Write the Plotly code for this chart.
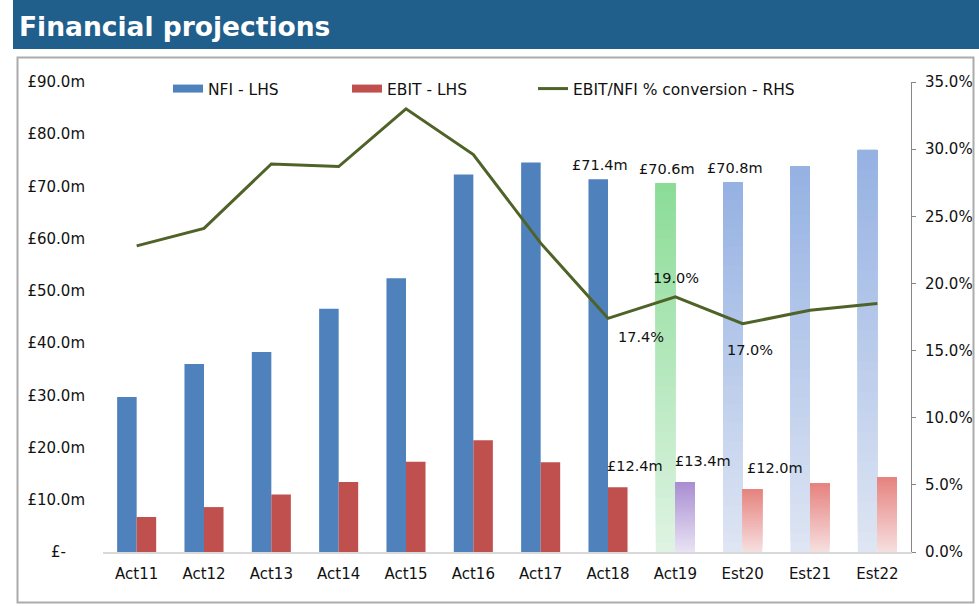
import plotly.graph_objects as go

# Data
categories = ['Act11', 'Act12', 'Act13', 'Act14', 'Act15', 'Act16',
              'Act17', 'Act18', 'Act19', 'Est20', 'Est21', 'Est22']
nfi = [29.7, 36.0, 38.3, 46.6, 52.4, 72.3, 74.6, 71.4, 70.6, 70.8, 73.8, 77.0]
ebit = [6.7, 8.6, 11.0, 13.4, 17.3, 21.4, 17.2, 12.4, 13.4, 12.0, 13.1, 14.3]
conversion = [22.8, 24.1, 28.9, 28.7, 33.0, 29.6, 23.0, 17.4, 19.0, 17.0, 18.0, 18.5]

left_tickvals = [0, 10, 20, 30, 40, 50, 60, 70, 80, 90]
left_ticktext = ['£-\u00a0\u00a0\u00a0\u00a0', '£10.0m', '£20.0m', '£30.0m', '£40.0m', '£50.0m',
                 '£60.0m', '£70.0m', '£80.0m', '£90.0m']
right_tickvals = [0, 5, 10, 15, 20, 25, 30, 35]
right_ticktext = ['0.0%', '5.0%', '10.0%', '15.0%', '20.0%', '25.0%', '30.0%', '35.0%']

# which bars get labels
nfi_labelled = ['Act18', 'Act19', 'Est20']
ebit_labelled = ['Act18', 'Act19', 'Est20']
pct_labelled = ['Act18', 'Act19', 'Est20']

FONT = 'DejaVu Sans'
NFI_COL = '#4F81BD'
EBIT_COL = '#C0504D'
LINE_COL = '#4F6228'

# plot area in pixels
L, R, T, B = 103, 911, 82, 552
W, H = 979, 606


def px_x(p):
    return (p - L) / (R - L)


def px_y(p):
    return (B - p) / (B - T)


def mix(c0, c1, t):
    return 'rgb({},{},{})'.format(*[round(a + (b - a) * t) for a, b in zip(c0, c1)])


# gradient colours (bottom, top)
grad_nfi = {'Act19': ((222, 243, 226), (140, 220, 152))}
grad_ebit = {'Act19': ((232, 226, 244), (170, 142, 210))}
for c in ['Est20', 'Est21', 'Est22']:
    grad_nfi[c] = ((222, 229, 243), (150, 178, 227))
    grad_ebit[c] = ((246, 222, 222), (230, 132, 128))

BW = 0.29
n_solid = 8
fig = go.Figure()

fig.add_trace(go.Bar(x=categories[:n_solid], y=nfi[:n_solid], width=BW, offset=-BW,
                     marker=dict(color=NFI_COL, line=dict(width=0)), showlegend=False))
fig.add_trace(go.Bar(x=categories[:n_solid], y=ebit[:n_solid], width=BW, offset=0,
                     marker=dict(color=EBIT_COL, line=dict(width=0)), showlegend=False))

# gradient bars: layered bars, each a bit higher base and darker shade
N = 40
gcats = categories[n_solid:]
gnfi = nfi[n_solid:]
gebit = ebit[n_solid:]
for k in range(N):
    t = k / (N - 1)
    fig.add_trace(go.Bar(x=gcats, y=[v - v * k / N for v in gnfi], base=[v * k / N for v in gnfi],
                         width=BW, offset=-BW,
                         marker=dict(color=[mix(*grad_nfi[c], t) for c in gcats], line=dict(width=0)),
                         showlegend=False, hoverinfo='skip'))
    fig.add_trace(go.Bar(x=gcats, y=[v - v * k / N for v in gebit], base=[v * k / N for v in gebit],
                         width=BW, offset=0,
                         marker=dict(color=[mix(*grad_ebit[c], t) for c in gcats], line=dict(width=0)),
                         showlegend=False, hoverinfo='skip'))

fig.add_trace(go.Scatter(x=categories, y=conversion, yaxis='y2', mode='lines',
                         line=dict(color=LINE_COL, width=3), showlegend=False))

# legend entries, one legend each so they can be placed like the original
fig.add_trace(go.Scatter(x=[None], y=[None], mode='lines', name='NFI - LHS', legend='legend',
                         line=dict(color=NFI_COL, width=8)))
fig.add_trace(go.Scatter(x=[None], y=[None], mode='lines', name='EBIT - LHS', legend='legend2',
                         line=dict(color=EBIT_COL, width=8)))
fig.add_trace(go.Scatter(x=[None], y=[None], mode='lines', name='EBIT/NFI % conversion - RHS',
                         legend='legend3', line=dict(color=LINE_COL, width=3)))

ann = []
lab_font = dict(family=FONT, size=14.5, color='#111111')
for c in nfi_labelled:
    v = nfi[categories.index(c)]
    ann.append(dict(x=c, y=v, xref='x', yref='y', text=f'£{v:.1f}m', showarrow=False,
                    xshift=-8, yshift=14, font=lab_font))
ebit_shift = {'Act18': 27, 'Act19': 28, 'Est20': 32}
for c in ebit_labelled:
    v = ebit[categories.index(c)]
    ann.append(dict(x=c, y=v, xref='x', yref='y', text=f'£{v:.1f}m', showarrow=False,
                    xshift=ebit_shift[c], yshift=21, font=lab_font))
pct_shift = {'Act18': (33, -19), 'Act19': (1, 19), 'Est20': (7, -26)}
for c in pct_labelled:
    v = conversion[categories.index(c)]
    ann.append(dict(x=c, y=v, xref='x', yref='y2', text=f'{v:.1f}%', showarrow=False,
                    xshift=pct_shift[c][0], yshift=pct_shift[c][1], font=lab_font))

ann.append(dict(x=px_x(17), y=px_y(26), xref='paper', yref='paper', xanchor='left', yanchor='middle',
                text='<b>Financial projections</b>', showarrow=False,
                font=dict(family=FONT, size=26.5, color='white')))

shapes = [
    dict(type='rect', xref='paper', yref='paper', layer='below',
         x0=px_x(13), x1=px_x(980), y0=px_y(49), y1=px_y(0),
         fillcolor='#205E8C', line=dict(width=0)),
    dict(type='rect', xref='paper', yref='paper', layer='below',
         x0=px_x(17.5), x1=px_x(973.5), y0=px_y(602.5), y1=px_y(57.5),
         fillcolor='rgba(0,0,0,0)', line=dict(color='#ABABAB', width=2)),
]

leg_font = dict(family=FONT, size=15.5, color='#111111')


def leg(xpix):
    return dict(orientation='h', x=px_x(xpix), y=px_y(89), xanchor='left', yanchor='middle',
                font=leg_font, bgcolor='rgba(0,0,0,0)')


fig.update_layout(
    width=W, height=H,
    margin=dict(l=L, r=W - R, t=T, b=H - B, pad=0),
    paper_bgcolor='white', plot_bgcolor='white',
    barmode='overlay',
    font=dict(family=FONT, size=15, color='#111111'),
    showlegend=True,
    legend=leg(168), legend2=leg(347), legend3=leg(533),
    xaxis=dict(type='category', showline=True, linecolor='#D9D9D9', linewidth=1.5,
               ticks='', showgrid=False, zeroline=False, ticklabelstandoff=7,
               automargin=False),
    yaxis=dict(range=[0, 90], tickvals=left_tickvals, ticktext=left_ticktext,
               showgrid=False, zeroline=False, showline=False, ticks='',
               ticklabelstandoff=17, automargin=False),
    yaxis2=dict(range=[0, 35], overlaying='y', side='right', tickvals=right_tickvals,
                ticktext=right_ticktext, showgrid=False, zeroline=False,
                showline=True, linecolor='#868686', linewidth=1, ticks='outside', ticklen=4,
                tickcolor='#868686', ticklabelstandoff=6, automargin=False),
    annotations=ann,
    shapes=shapes,
)

# the page's default body margin would push the chart 8px down and right
fig.write_html('out.html', config={'displayModeBar': False},
               post_script="document.body.style.margin='0';")
